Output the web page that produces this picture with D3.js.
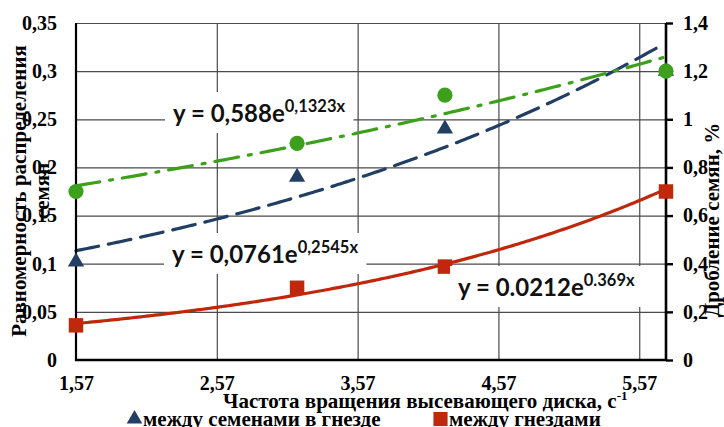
<!DOCTYPE html>
<html>
<head>
<meta charset="utf-8">
<script src="https://cdn.jsdelivr.net/npm/d3@7"></script>
<style>
body { margin: 0; background: #fff; }
svg { display: block; }
</style>
</head>
<body>
<script>
// data
var xVals = [1.57, 3.14, 4.19, 5.76];
var seedGap = [0.102, 0.19, 0.24, 0.30];     // между семенами в гнезде (left axis)
var nestGap = [0.036, 0.075, 0.097, 0.175];  // между гнездами (left axis)
var crush = [0.7, 0.9, 1.1, 1.2];            // дробление семян, % (right axis)

// exponential trendlines shown on the chart: y = a * e^(b x)
var fitA = [0.0761, 0.0212, 0.588];
var fitB = [0.2545, 0.369, 0.1323];
var fitText = [['y = 0,0761e', '0,2545x'], ['y = 0.0212e', '0.369x'], ['y = 0,588e', '0,1323x']];

var xTicks = [1.57, 2.57, 3.57, 4.57, 5.57];
var leftTicks = [0, 0.05, 0.1, 0.15, 0.2, 0.25, 0.3, 0.35];
var rightTicks = [0, 0.2, 0.4, 0.6, 0.8, 1, 1.2, 1.4];

var width = 724, height = 427;
var pLeft = 76, pRight = 666, pTop = 23, pBottom = 360;

var navy = '#223f63', red = '#c0280c', green = '#3ca01c';
var serif = '"Liberation Serif", "Times New Roman", serif';
var sans = 'Lato, "Open Sans", sans-serif';

var svg = d3.select('body').append('svg')
    .attr('width', width)
    .attr('height', height);

var x = d3.scaleLinear().domain([1.57, 5.76]).range([pLeft, pRight]);
var yL = d3.scaleLinear().domain([0, 0.35]).range([pBottom, pTop]);
var yR = d3.scaleLinear().domain([0, 1.4]).range([pBottom, pTop]);

function comma(d) { return String(d).replace('.', ','); }

// gridlines
var gy = svg.append('g')
    .attr('transform', 'translate(' + pLeft + ',0)')
    .call(d3.axisLeft(yL).tickValues(leftTicks.slice(1)).tickSize(-(pRight - pLeft)).tickFormat(''));
var gx = svg.append('g')
    .attr('transform', 'translate(0,' + pBottom + ')')
    .call(d3.axisBottom(x).tickValues(xTicks.slice(1)).tickSize(-(pBottom - pTop)).tickFormat(''));
[gy, gx].forEach(function (g) {
    g.select('.domain').remove();
    g.selectAll('line').attr('stroke', '#4a4a4a').attr('stroke-width', 1.2);
});

// trendlines
var xs = d3.range(1.57, 5.7601, 0.02);
var dashes = ['23,10', null, '24,10,3,10'];
var colors = [navy, red, green];
var scales = [yL, yL, yR];
for (var i = 0; i < 3; i++) {
    var line = d3.line()
        .x(function (d) { return x(d); })
        .y((function (k) { return function (d) { return scales[k](fitA[k] * Math.exp(fitB[k] * d)); }; })(i));
    svg.append('path')
        .datum(xs)
        .attr('d', line)
        .attr('fill', 'none')
        .attr('stroke', colors[i])
        .attr('stroke-width', 3.2)
        .attr('stroke-linecap', 'round')
        .attr('stroke-dasharray', dashes[i]);
}

// axis lines
svg.append('line').attr('x1', pLeft).attr('x2', pLeft).attr('y1', pTop).attr('y2', pBottom + 1)
    .attr('stroke', '#000').attr('stroke-width', 2.2);
svg.append('line').attr('x1', pLeft - 1).attr('x2', pRight + 1).attr('y1', pBottom).attr('y2', pBottom)
    .attr('stroke', '#000').attr('stroke-width', 2.6);

// left tick labels
var axL = svg.append('g')
    .attr('transform', 'translate(' + pLeft + ',0)')
    .call(d3.axisLeft(yL).tickValues(leftTicks).tickSize(0).tickPadding(19).tickFormat(comma));
// right axis
var axR = svg.append('g')
    .attr('transform', 'translate(' + pRight + ',0)')
    .call(d3.axisRight(yR).tickValues(rightTicks).tickSize(7).tickPadding(10).tickFormat(comma));
axR.select('.domain').attr('stroke', '#000').attr('stroke-width', 2.6).attr('d', 'M0,' + pTop + 'V' + (pBottom + 1));
axR.selectAll('line').attr('stroke', '#000').attr('stroke-width', 2.4);
// bottom tick labels
var axB = svg.append('g')
    .attr('transform', 'translate(0,' + pBottom + ')')
    .call(d3.axisBottom(x).tickValues(xTicks).tickSize(0).tickPadding(16).tickFormat(comma));
axL.select('.domain').remove();
axB.select('.domain').remove();
[axL, axR, axB].forEach(function (g) {
    g.attr('font-family', null).attr('font-size', null);
    g.selectAll('text')
        .style('font-family', serif)
        .style('font-size', '20px')
        .style('font-weight', 'bold')
        .attr('fill', '#000');
});

// markers
svg.selectAll('.tri').data(xVals).enter().append('path')
    .attr('transform', function (d, i) { return 'translate(' + x(d) + ',' + yL(seedGap[i]) + ')'; })
    .attr('d', d3.symbol().type(d3.symbolTriangle).size(115))
    .attr('fill', navy);
svg.selectAll('.sq').data(xVals).enter().append('path')
    .attr('transform', function (d, i) { return 'translate(' + x(d) + ',' + yL(nestGap[i]) + ')'; })
    .attr('d', d3.symbol().type(d3.symbolSquare).size(210))
    .attr('fill', red);
svg.selectAll('.dot').data(xVals).enter().append('circle')
    .attr('cx', function (d) { return x(d); })
    .attr('cy', function (d, i) { return yR(crush[i]); })
    .attr('r', 7.6)
    .attr('fill', green);

// equation labels with white boxes
var labelPos = [[172, 263], [458, 296], [173, 122]];
labelPos.forEach(function (p, i) {
    var g = svg.append('g');
    var box = g.append('rect').attr('fill', '#fff');
    var t = g.append('text')
        .attr('x', p[0]).attr('y', p[1])
        .style('font-family', sans)
        .style('font-weight', 'bold')
        .style('font-size', '24px')
        .attr('fill', '#111');
    t.append('tspan').text(fitText[i][0]);
    t.append('tspan').attr('dy', -10).style('font-size', '16.5px').text(fitText[i][1]);
    var bb = t.node().getBBox();
    box.attr('x', bb.x - 8).attr('y', bb.y - 4).attr('width', bb.width + 16).attr('height', bb.height + 10);
});

// axis titles
svg.append('text')
    .attr('transform', 'translate(26,191) rotate(-90)')
    .attr('text-anchor', 'middle')
    .style('font-family', serif).style('font-size', '21px').style('font-weight', 'bold')
    .text('Равномерность распределения');
svg.append('text')
    .attr('transform', 'translate(49,191) rotate(-90)')
    .attr('text-anchor', 'middle')
    .style('font-family', serif).style('font-size', '21px').style('font-weight', 'bold')
    .text('семян');
svg.append('text')
    .attr('transform', 'translate(719,220) rotate(-90)')
    .attr('text-anchor', 'middle')
    .style('font-family', serif).style('font-size', '21px').style('font-weight', 'bold')
    .text('Дробление семян, %');

var xt = svg.append('text')
    .attr('x', 223).attr('y', 408)
    .style('font-family', serif).style('font-size', '21px').style('font-weight', 'bold');
xt.append('tspan').text('Частота вращения высевающего диска, с');
xt.append('tspan').attr('dy', -8).style('font-size', '13px').text('-1');

// legend
var legend = [['между семенами в гнезде', navy, d3.symbolTriangle, 127], ['между гнездами', red, d3.symbolSquare, 433]];
legend.forEach(function (l) {
    svg.append('path')
        .attr('transform', 'translate(' + (l[3] + 7.5) + ',419)')
        .attr('d', d3.symbol().type(l[2]).size(l[2] === d3.symbolTriangle ? 105 : 200))
        .attr('fill', l[1]);
    svg.append('text')
        .attr('x', l[3] + 16).attr('y', 426)
        .style('font-family', serif).style('font-size', '21px').style('font-weight', 'bold')
        .text(l[0]);
});
</script>
</body>
</html>
